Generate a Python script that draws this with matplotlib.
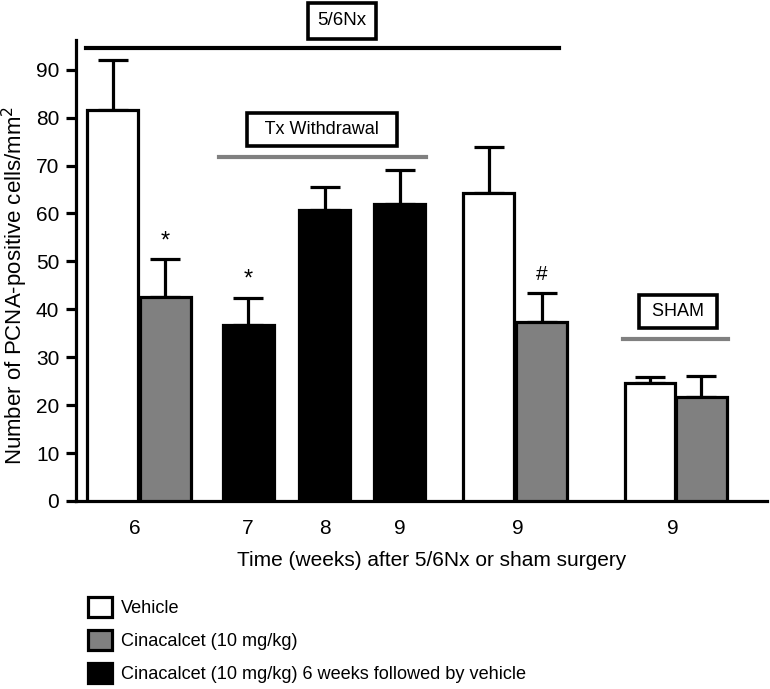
import matplotlib
matplotlib.use('Agg')
import matplotlib.pyplot as plt
from matplotlib.patches import Patch

plt.rcParams['font.family'] = ['Liberation Sans', 'DejaVu Sans']

# data
groups = ['6', '7', '8', '9', '9', '9']
values = [81.6, 42.5, 36.7, 60.8, 62.0, 64.3, 37.4, 24.6, 21.7]
errors = [10.4, 7.9, 5.7, 4.7, 7.1, 9.6, 6.0, 1.3, 4.4]
treat = ['veh', 'cin', 'wd', 'wd', 'wd', 'veh', 'cin', 'veh', 'cin']
marks = ['', '*', '*', '', '', '', '#', '', '']

legend_labels = ['Vehicle', 'Cinacalcet (10 mg/kg)',
                 'Cinacalcet (10 mg/kg) 6 weeks followed by vehicle']

# layout
xpos = [0, 1.01, 2.6, 4.07, 5.52, 7.23, 8.25, 10.33, 11.32]
tick_pos = [0.42, 2.6, 4.07, 5.52, 7.79, 10.77]
colors = {'veh': 'white', 'cin': '#808080', 'wd': 'black'}
lw = 2.3

fig = plt.figure(figsize=(7.7, 6.89), dpi=100)
ax = fig.add_axes([76 / 770, 1 - 501 / 689, 691 / 770, 461 / 689])

ax.bar(xpos, values, width=0.98, color=[colors[t] for t in treat],
       edgecolor='black', linewidth=lw, zorder=3)
ax.errorbar(xpos, values, yerr=[[0] * len(values), errors], fmt='none',
            ecolor='black', elinewidth=lw, capsize=10.5, capthick=lw, zorder=2)

for x, v, e, m in zip(xpos, values, errors, marks):
    if m:
        ax.text(x, v + e + 3.8, m, ha='center', va='center',
                fontsize=17 if m == '*' else 15)

ax.set_xlim(-0.71, 12.58)
ax.set_ylim(0, 96.2)
ax.set_yticks(range(0, 91, 10))
ax.set_xticks(tick_pos)
ax.set_xticklabels(groups)
ax.tick_params(axis='y', length=7, width=lw, labelsize=15, pad=5)
ax.tick_params(axis='x', length=0, labelsize=15, pad=13)
for s in ['top', 'right']:
    ax.spines[s].set_visible(False)
for s in ['left', 'bottom']:
    ax.spines[s].set_linewidth(lw)

fig.text(15 / 770, 1 - 285 / 689, 'Number of PCNA-positive cells/mm$^2$',
         rotation=90, ha='center', va='center', fontsize=16)
ax.text(0.514, -0.128, 'Time (weeks) after 5/6Nx or sham surgery',
        transform=ax.transAxes, ha='center', va='center', fontsize=15)

# group brackets
ax.plot([-0.52, 8.58], [94.6, 94.6], color='black', lw=3, clip_on=False)
ax.plot([2.04, 6.02], [71.8, 71.8], color='#808080', lw=3, clip_on=False)
ax.plot([9.81, 11.83], [33.8, 33.8], color='#808080', lw=3, clip_on=False)

box = dict(boxstyle='square,pad=0.45', fc='white', ec='black', lw=2.6)
ax.text(4.40, 100.2, '5/6Nx', ha='center', va='center', fontsize=13.5,
        bbox=dict(box, boxstyle='square,pad=0.5'), clip_on=False)
ax.text(4.02, 77.5, '  Tx Withdrawal  ', ha='center', va='center',
        fontsize=13, bbox=box, clip_on=False)
ax.text(10.87, 39.5, ' SHAM ', ha='center', va='center', fontsize=13,
        bbox=box, clip_on=False)

handles = [Patch(facecolor=colors[k], edgecolor='black', linewidth=lw)
           for k in ['veh', 'cin', 'wd']]
fig.legend(handles, legend_labels, loc='upper left',
           bbox_to_anchor=(88 / 770, 1 - 597 / 689), frameon=False,
           fontsize=13.1, handlelength=1.33, handleheight=1.3,
           handletextpad=0.5, labelspacing=0.72, borderpad=0,
           borderaxespad=0)

fig.savefig('out.png', dpi=100)
